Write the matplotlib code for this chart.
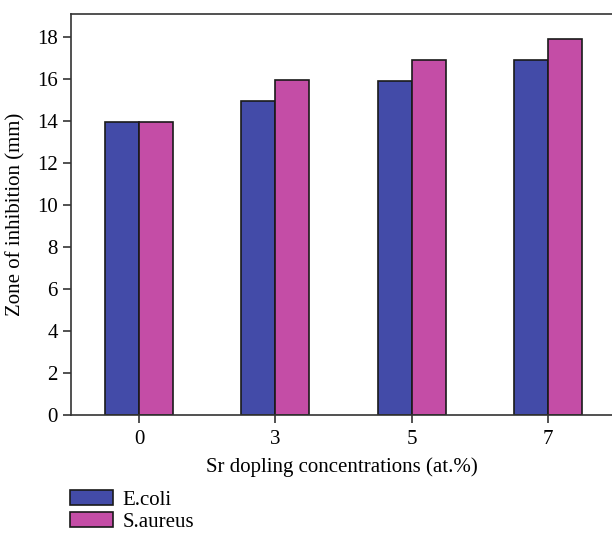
import matplotlib
matplotlib.use("Agg")
import matplotlib.pyplot as plt
import numpy as np
from matplotlib.patches import Patch

categories = ["0", "3", "5", "7"]
ecoli = [13.95, 14.95, 15.9, 16.9]
saureus = [13.95, 15.95, 16.9, 17.9]
yticks = [0, 2, 4, 6, 8, 10, 12, 14, 16, 18]

plt.rcParams['font.family'] = ['Liberation Serif', 'DejaVu Serif']

fig = plt.figure(figsize=(6.12, 5.33), dpi=100)
ax = fig.add_axes([71/612, 118/533, 1 - 71/612, (415-14)/533])

x = np.arange(len(categories))
w = 0.25
blue = '#434BA8'
pink = '#C44DA6'
ax.bar(x - w/2, ecoli, w, color=blue, edgecolor='#1a1a1a', linewidth=1.2, label='E.coli')
ax.bar(x + w/2, saureus, w, color=pink, edgecolor='#1a1a1a', linewidth=1.2, label='S.aureus')

ax.set_xlim(-0.5, 3.47)
ax.set_ylim(0, 19.1)
ax.set_xticks(x)
ax.set_xticklabels(categories)
ax.set_yticks(yticks)
ax.spines['right'].set_visible(False)
for s in ['left', 'bottom', 'top']:
    ax.spines[s].set_linewidth(1.2)
    ax.spines[s].set_color('#333333')
ax.tick_params(axis='both', direction='out', length=6, width=1.2, labelsize=15, color='#333333')
ax.tick_params(axis='x', pad=5)
ax.set_xlabel('Sr dopling concentrations (at.%)', fontsize=15, labelpad=6)
ax.set_ylabel('Zone of inhibition (mm)', fontsize=15, labelpad=8)

handles = [Patch(facecolor=blue, edgecolor='#1a1a1a', linewidth=1.2),
           Patch(facecolor=pink, edgecolor='#1a1a1a', linewidth=1.2)]
fig.legend(handles, ['E.coli', 'S.aureus'], loc='upper left',
           bbox_to_anchor=(66/612, 1 - 486/533), frameon=False, fontsize=15,
           handlelength=2.05, handleheight=0.75, handletextpad=0.45, labelspacing=0.08,
           borderaxespad=0, borderpad=0.2)

fig.savefig('out.png', dpi=100)
